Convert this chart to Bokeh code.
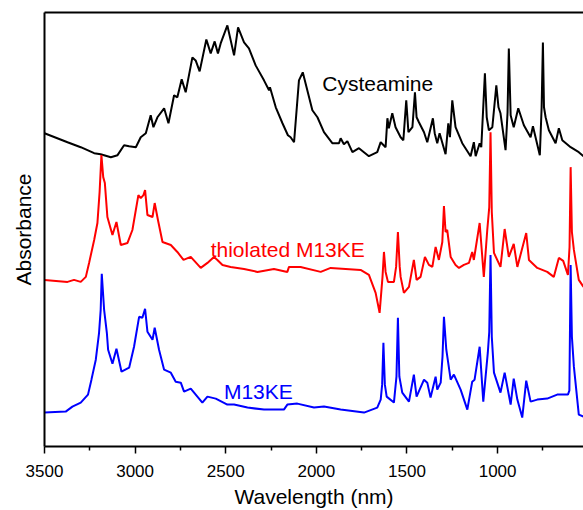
from bokeh.plotting import figure
from bokeh.models import Range1d, LinearAxis, FixedTicker, Label
from bokeh.embed import file_html
from bokeh.resources import INLINE

# ---- data (wavelength in nm, absorbance in arbitrary offset units) ----
wl_cys = [3500, 3373, 3300, 3226, 3190, 3134, 3097, 3061, 3033, 2996, 2969, 2941, 2932, 2914, 2899,
          2877, 2840, 2816, 2785, 2767, 2743, 2721, 2684, 2666, 2644, 2607, 2583, 2561, 2543, 2528,
          2491, 2454, 2432, 2399, 2372, 2335, 2289, 2261, 2256, 2224, 2187, 2157, 2142, 2123, 2096,
          2075, 2022, 1994, 1958, 1912, 1875, 1866, 1848, 1829, 1801, 1765, 1710, 1664, 1645, 1618,
          1608, 1600, 1581, 1563, 1535, 1520, 1504, 1492, 1470, 1456, 1447, 1434, 1406, 1388, 1375,
          1357, 1347, 1333, 1320, 1287, 1272, 1263, 1250, 1232, 1195, 1149, 1131, 1121, 1099, 1090,
          1070, 1060, 1048, 1029, 1007, 995, 984, 956, 945, 938, 928, 911, 886, 855, 818, 805, 767, 757, 750,
          744, 735, 717, 680, 662, 643, 597, 552, 526]
ab_cys = [314, 305, 300, 294, 293, 290, 292, 302, 301, 300, 310, 314, 320, 332, 320,
          330, 339, 324, 352, 350, 368, 355, 390, 387, 376, 408, 394, 406, 394, 404,
          422, 392, 420, 405, 399, 382, 367, 357, 360, 340, 324, 312, 310, 305, 367,
          375, 337, 330, 315, 304, 304, 309, 303, 306, 295, 299, 291, 295, 305, 300,
          329, 319, 334, 320, 310, 307, 347, 315, 320, 355, 330, 325, 315, 305, 315,
          329, 314, 304, 314, 293, 324, 310, 347, 320, 304, 291, 305, 291, 304, 300,
          374, 330, 317, 320, 362, 340, 334, 297, 335, 399, 332, 320, 339, 322, 310, 321, 292, 340, 405,
          340, 330, 317, 304, 319, 307, 300, 295, 291]

wl_thio = [3500, 3373, 3337, 3300, 3272, 3254, 3226, 3208, 3196, 3186, 3176, 3167, 3153, 3125, 3103, 3079, 3042,
           3015, 2982, 2969, 2954, 2945, 2932, 2904, 2892, 2874, 2849, 2803, 2767, 2733, 2693, 2638,
           2601, 2565, 2546, 2518, 2473, 2399, 2325, 2234, 2160, 2151, 2087, 1976, 1921, 1756, 1710,
           1673, 1651, 1635, 1627, 1618, 1605, 1572, 1560, 1550, 1540, 1535, 1517, 1489, 1462, 1447, 1425, 1401, 1379, 1360,
           1342, 1324, 1305, 1296, 1287, 1278, 1259, 1232, 1213, 1186, 1158, 1140, 1131, 1099, 1076, 1057,
           1046, 1039, 1032, 1020, 984, 961, 938, 911, 891, 842, 827, 781, 726, 690, 662, 638, 612,
           603, 597, 590, 579, 552, 526]
ab_thio = [167, 165, 167, 165, 170, 184, 207, 224, 255, 292, 270, 264, 230, 212, 225, 202, 204,
           217, 252, 249, 252, 257, 232, 230, 244, 227, 205, 202, 195, 187, 190, 179,
           184, 190, 187, 182, 180, 178, 175, 178, 175, 180, 180, 175, 179, 177, 172,
           154, 134, 170, 195, 175, 165, 165, 180, 215, 180, 170, 154, 160, 187, 167, 170, 190, 182, 180,
           200, 187, 205, 241, 215, 217, 190, 182, 179, 182, 184, 195, 187, 224, 170, 217,
           240, 315, 235, 194, 180, 218, 190, 203, 180, 214, 187, 179, 175, 170, 189, 186, 172,
           200, 280, 215, 197, 167, 160]

wl_m13 = [3500, 3383, 3346, 3300, 3260, 3241, 3217, 3199, 3190, 3184, 3171, 3156, 3149, 3125, 3103, 3075, 3033,
          3006, 2978, 2960, 2945, 2932, 2904, 2892, 2868, 2840, 2803, 2776, 2748, 2730, 2693, 2629,
          2601, 2555, 2491, 2454, 2380, 2289, 2179, 2160, 2105, 2013, 1958, 1866, 1737, 1664, 1645,
          1637, 1630, 1622, 1612, 1572, 1558, 1550, 1542, 1526, 1489, 1462, 1447, 1406, 1388, 1370, 1342, 1333, 1314, 1304, 1296,
          1283, 1259, 1241, 1204, 1167, 1140, 1127, 1099, 1079, 1054, 1046, 1039, 1032, 1020, 984, 961, 928,
          911, 891, 864, 842, 818, 781, 726, 671, 612, 604, 597, 590, 579, 552, 526]
ab_m13 = [34, 35, 40, 44, 52, 67, 87, 114, 137, 173, 137, 114, 97, 83, 98, 75, 79,
          100, 130, 129, 138, 115, 107, 119, 97, 77, 74, 65, 64, 55, 58, 44,
          50, 48, 42, 42, 39, 37, 37, 42, 43, 39, 40, 37, 34, 39, 47,
          62, 104, 62, 50, 44, 70, 129, 70, 54, 45, 72, 50, 67, 64, 49, 70, 57, 64, 90, 130,
          97, 67, 72, 57, 37, 65, 67, 100, 45, 94, 115, 192, 110, 74, 54, 74, 42,
          68, 47, 29, 66, 45, 47, 48, 52, 52, 56, 182, 110, 80, 32, 30]

x_ticks = [3500, 3000, 2500, 2000, 1500, 1000]
x_minor = [3250, 2750, 2250, 1750, 1250, 750]

FONT = "Liberation Sans"

p = figure(width=583, height=510, output_backend="svg", toolbar_location=None,
           x_range=Range1d(3500, 526), y_range=Range1d(0, 435),
           min_border_left=44, min_border_right=0, min_border_top=12, min_border_bottom=63)
p.outline_line_color = None
p.grid.visible = False
p.background_fill_color = "white"
p.border_fill_color = "white"

p.line(wl_cys, ab_cys, line_color="black", line_width=2)
p.line(wl_thio, ab_thio, line_color="#ff0000", line_width=2)
p.line(wl_m13, ab_m13, line_color="#0000ff", line_width=2)

xa = p.xaxis[0]
xa.ticker = FixedTicker(ticks=x_ticks, minor_ticks=x_minor)
xa.axis_line_width = 2
xa.axis_line_color = "black"
xa.major_tick_in = 0
xa.major_tick_out = 7
xa.minor_tick_in = 0
xa.minor_tick_out = 4
xa.major_tick_line_width = 1.5
xa.minor_tick_line_width = 1.5
xa.major_tick_line_color = "black"
xa.minor_tick_line_color = "black"
xa.major_label_text_font = FONT
xa.major_label_text_font_size = "17px"
xa.major_label_text_color = "black"
xa.major_label_standoff = 11
xa.axis_label = "Wavelength (nm)"
xa.axis_label_text_font = FONT
xa.axis_label_text_font_size = "21px"
xa.axis_label_text_font_style = "normal"
xa.axis_label_text_color = "black"
xa.axis_label_standoff = 5

ya = p.yaxis[0]
ya.ticker = FixedTicker(ticks=[])
ya.axis_line_width = 2
ya.axis_line_color = "black"
ya.major_tick_out = 0
ya.major_tick_in = 0
ya.minor_tick_out = 0
ya.minor_tick_in = 0
ya.major_label_text_font_size = "0px"
ya.major_label_standoff = 0
ya.axis_label = "Absorbance"
ya.axis_label_text_font = FONT
ya.axis_label_text_font_size = "21px"
ya.axis_label_text_font_style = "normal"
ya.axis_label_text_color = "black"
ya.axis_label_standoff = 10

top = LinearAxis(ticker=FixedTicker(ticks=[]), axis_line_width=2, axis_line_color="black",
                 major_tick_out=0, major_tick_in=0, minor_tick_out=0, minor_tick_in=0,
                 major_label_text_font_size="0px", major_label_standoff=0)
p.add_layout(top, "above")

p.add_layout(Label(x=1967, y=364, text="Cysteamine", text_font=FONT, text_font_size="21px",
                   text_color="black", text_baseline="alphabetic", text_align="left"))
p.add_layout(Label(x=2583, y=197, text="thiolated M13KE", text_font=FONT, text_font_size="21px",
                   text_color="#ff0000", text_baseline="alphabetic", text_align="left"))
p.add_layout(Label(x=2510, y=55, text="M13KE", text_font=FONT, text_font_size="21px",
                   text_color="#0000ff", text_baseline="alphabetic", text_align="left"))

open("out.html", "w").write(file_html(p, INLINE))
